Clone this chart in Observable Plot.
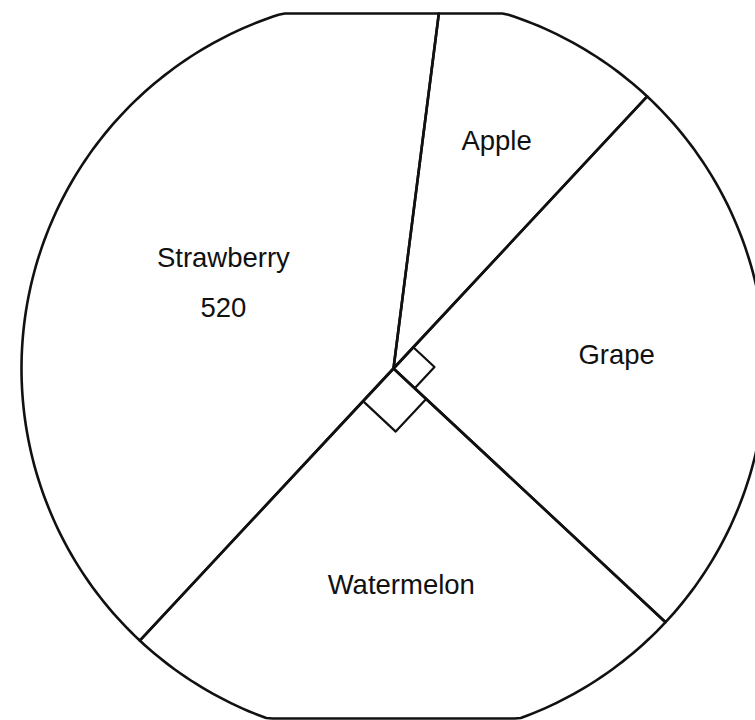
<!DOCTYPE html>
<html><head><meta charset="utf-8">
<script src="https://cdn.jsdelivr.net/npm/d3@7"></script>
<script src="https://cdn.jsdelivr.net/npm/@observablehq/plot@0.6"></script>
<style>body{margin:0;background:#fff} #chart svg{display:block;overflow:hidden}</style>
</head><body><div id="chart"></div>
<script>
// ---- data ----
const fruits = ["Apple", "Grape", "Watermelon", "Strawberry"];
const amounts = [130, 325, 325, 520];
const valueLabels = ["", "", "", "520"];

// ---- layout (styles) ----
const W = 755, H = 720;
const CX = 393, CY = 368, R = 372, TOP = 13, BOTTOM = 718;
const startAngle = 7 * Math.PI / 180;
const rightMarkSize = {Grape: 0.078, Watermelon: 0.12};

const table = fruits.map((f, i) => ({fruit: f, amount: amounts[i], valueLabel: valueLabels[i]}));
const arcs = d3.pie().sort(null).value(d => d.amount)
  .startAngle(startAngle).endAngle(startAngle + 2 * Math.PI)(table);

// slice outlines
const outline = [];
arcs.forEach(a => {
  const n = Math.max(2, Math.ceil((a.endAngle - a.startAngle) / (Math.PI / 180)));
  outline.push({fruit: a.data.fruit, x: 0, y: 0});
  for (let k = 0; k <= n; k++) {
    const t = a.startAngle + (a.endAngle - a.startAngle) * k / n;
    outline.push({fruit: a.data.fruit, x: Math.sin(t), y: Math.cos(t)});
  }
});

// right-angle markers
const marks90 = [];
arcs.forEach(a => {
  if (Math.abs(a.endAngle - a.startAngle - Math.PI / 2) < 1e-6) {
    const s = rightMarkSize[a.data.fruit] ?? 0.1;
    const a0 = a.startAngle, a1 = a.endAngle;
    marks90.push({fruit: a.data.fruit, x: s * Math.sin(a0), y: s * Math.cos(a0)});
    marks90.push({fruit: a.data.fruit, x: s * (Math.sin(a0) + Math.sin(a1)), y: s * (Math.cos(a0) + Math.cos(a1))});
    marks90.push({fruit: a.data.fruit, x: s * Math.sin(a1), y: s * Math.cos(a1)});
  }
});

// labels at sector centroid
const labels = arcs.map(a => {
  const alpha = a.endAngle - a.startAngle;
  const mid = (a.startAngle + a.endAngle) / 2;
  const c = 4 * Math.sin(alpha / 2) / (3 * alpha);
  return {
    x: c * Math.sin(mid), y: c * Math.cos(mid),
    text: a.data.valueLabel ? `${a.data.fruit}\n${a.data.valueLabel}` : a.data.fruit
  };
});

const chart = Plot.plot({
  width: W, height: H, margin: 0,
  style: {background: "#fff", color: "#111"},
  x: {axis: null, domain: [(0 - CX) / R, (W - CX) / R], range: [0, W]},
  y: {axis: null, domain: [(CY - BOTTOM) / R, (CY - TOP) / R], range: [BOTTOM, TOP], clamp: true},
  marks: [
    Plot.line(outline, {x: "x", y: "y", z: "fruit", curve: "linear-closed", stroke: "#111", strokeWidth: 2.6, strokeLinejoin: "round"}),
    Plot.line(marks90, {x: "x", y: "y", z: "fruit", stroke: "#111", strokeWidth: 2.2}),
    Plot.text(labels, {x: "x", y: "y", dy: -13, text: "text", fontSize: 27.5, fontFamily: "Liberation Sans, Arial, sans-serif", fill: "#111", lineHeight: 1.8})
  ]
});
document.getElementById("chart").appendChild(chart);
</script>
</body></html>
